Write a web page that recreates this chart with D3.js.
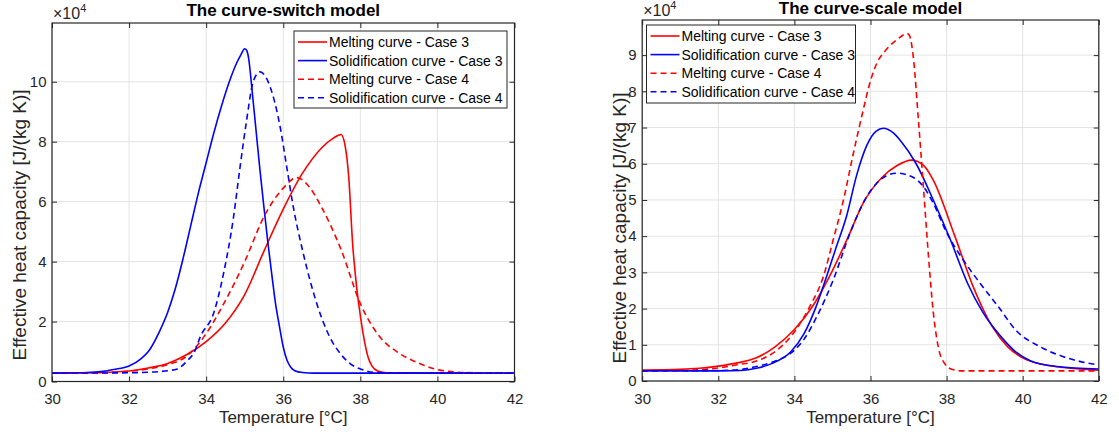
<!DOCTYPE html>
<html>
<head>
<meta charset="utf-8">
<script src="https://cdn.jsdelivr.net/npm/d3@7"></script>
<style>
  html, body { margin: 0; padding: 0; background: #fff; }
  svg { display: block; }
  text { font-family: "Liberation Sans", Arial, Helvetica, sans-serif; }
</style>
</head>
<body>
<svg id="fig" width="1119" height="435"></svg>
<script>
// Effective heat capacity curves, values in units of 10^4 J/(kg K), temperature in °C
const xTicks = [30, 32, 34, 36, 38, 40, 42];
const switchYTicks = [0, 2, 4, 6, 8, 10];
const scaleYTicks = [0, 1, 2, 3, 4, 5, 6, 7, 8, 9];
const legendLabels = [
  "Melting curve - Case 3",
  "Solidification curve - Case 3",
  "Melting curve - Case 4",
  "Solidification curve - Case 4"
];

// The curve-switch model
const switchMelt3 = [[30,0.28],[31,0.29],[31.5,0.31],[32,0.35],[32.5,0.45],[33,0.6],[33.5,0.9],[34,1.33],
  [34.5,1.95],[35,2.9],[35.5,4.35],[36,5.75],[36.5,6.95],[37,7.8],[37.3,8.12],[37.5,8.24],[37.6,7.9],
  [37.7,6.8],[37.8,4.6],[37.9,3.2],[38,2.2],[38.1,1.4],[38.2,0.82],[38.3,0.52],[38.45,0.35],[38.7,0.29],[42,0.28]];
const switchSolid3 = [[30,0.28],[30.8,0.29],[31.2,0.32],[31.6,0.4],[32,0.52],[32.3,0.75],[32.5,1.0],[32.8,1.7],
  [33,2.3],[33.2,3.1],[33.4,4.1],[33.6,5.2],[33.8,6.3],[34,7.3],[34.2,8.3],[34.4,9.2],[34.6,10.0],[34.8,10.65],
  [34.9,10.9],[35,11.1],[35.05,11.05],[35.1,10.8],[35.2,9.6],[35.3,8.3],[35.4,7.0],[35.5,5.8],[35.6,4.65],
  [35.7,3.6],[35.8,2.6],[35.9,1.85],[36,1.15],[36.1,0.7],[36.2,0.47],[36.3,0.36],[36.5,0.3],[36.8,0.28],[42,0.28]];
const switchMelt4 = [[30,0.28],[31,0.29],[31.5,0.3],[32,0.34],[32.5,0.42],[33,0.56],[33.5,0.85],[34,1.6],
  [34.5,2.7],[35,4.0],[35.5,5.5],[36,6.45],[36.35,6.8],[36.7,6.45],[37,5.8],[37.5,4.4],[38,2.6],[38.5,1.5],
  [39,0.95],[39.5,0.62],[40,0.4],[40.5,0.31],[41,0.29],[42,0.28]];
const switchSolid4 = [[30,0.28],[32,0.29],[32.5,0.31],[33,0.36],[33.25,0.42],[33.5,0.68],[33.7,1.0],[33.85,1.5],
  [34.2,2.3],[34.45,3.6],[34.7,5.4],[34.88,7.16],[35.05,8.72],[35.22,10.0],[35.4,10.33],[35.55,10.15],[35.66,9.83],
  [35.92,8.49],[36.09,7.16],[36.26,5.83],[36.52,4.27],[36.87,2.6],[37.2,1.5],[37.5,0.9],[37.75,0.58],[38,0.42],
  [38.4,0.3],[39,0.28],[42,0.28]];

// The curve-scale model
const scaleMelt3 = [[30,0.3],[31,0.32],[31.5,0.35],[32,0.41],[32.5,0.5],[33,0.64],[33.5,0.95],[34,1.42],
  [34.5,2.1],[35,3.05],[35.4,3.95],[35.8,4.9],[36.3,5.62],[36.7,5.95],[37.08,6.1],[37.4,5.95],[37.65,5.55],
  [38.2,4.05],[38.7,2.6],[39.2,1.5],[39.6,0.95],[40,0.64],[40.5,0.46],[41,0.38],[42,0.3]];
const scaleSolid3 = [[30,0.28],[32,0.28],[32.6,0.29],[33,0.35],[33.4,0.48],[33.9,0.8],[34.25,1.3],[34.55,2.0],
  [34.85,2.9],[35.1,3.7],[35.37,4.55],[35.64,5.7],[35.9,6.5],[36.15,6.9],[36.34,6.98],[36.6,6.85],[36.8,6.62],
  [37.2,6.0],[37.65,5.0],[38.1,3.9],[38.55,2.7],[38.95,1.9],[39.4,1.26],[39.8,0.82],[40.2,0.56],[40.9,0.4],[42,0.33]];
const scaleMelt4 = [[30,0.28],[31,0.29],[31.5,0.31],[32,0.36],[32.5,0.45],[33,0.55],[33.5,0.82],[33.9,1.22],
  [34.4,2.05],[34.76,2.88],[35.02,3.9],[35.29,5.0],[35.55,6.29],[35.81,7.49],[35.95,8.1],[36.08,8.55],[36.2,8.85],
  [36.35,9.07],[36.5,9.25],[36.7,9.43],[36.85,9.55],[36.95,9.6],[37.02,9.55],[37.08,9.3],[37.13,8.9],[37.26,7.2],
  [37.39,5.37],[37.52,3.5],[37.65,1.9],[37.8,0.85],[37.95,0.48],[38.1,0.34],[38.4,0.28],[42,0.28]];
const scaleSolid4 = [[30,0.28],[32,0.29],[32.6,0.32],[33,0.4],[33.5,0.55],[34,0.85],[34.25,1.15],[34.6,1.8],
  [35.02,2.79],[35.46,4.08],[35.9,5.09],[36.25,5.55],[36.69,5.74],[37.13,5.62],[37.39,5.37],[37.65,4.91],
  [38.0,4.1],[38.44,3.34],[38.88,2.7],[39.36,2.05],[39.84,1.38],[40.45,0.95],[41.07,0.67],[42,0.44]];

const RED = "#ff0000", BLUE = "#0000ff";
const AX = "#262626", GRID = "#e3e3e3";

const panels = [
  {
    title: "The curve-switch model",
    left: 52, right: 514.5, top: 23, bottom: 381.5,
    yMax: 11.96, yTicks: switchYTicks,
    series: [switchMelt3, switchSolid3, switchMelt4, switchSolid4],
    legend: { x: 294, y: 31, w: 213, h: 77 },
    ylabelX: 26, ylabelY: 225, titleY: 16
  },
  {
    title: "The curve-scale model",
    left: 642.2, right: 1098.8, top: 20, bottom: 381,
    yMax: 9.97, yTicks: scaleYTicks,
    series: [scaleMelt3, scaleSolid3, scaleMelt4, scaleSolid4],
    legend: { x: 646.5, y: 25, w: 209, h: 78 },
    ylabelX: 626, ylabelY: 228, titleY: 14
  }
];

const styles = [
  { color: RED, dash: null },
  { color: BLUE, dash: null },
  { color: RED, dash: "6,4" },
  { color: BLUE, dash: "6,4" }
];

const svg = d3.select("#fig");

panels.forEach(p => {
  const x = d3.scaleLinear().domain([30, 42]).range([p.left, p.right]);
  const y = d3.scaleLinear().domain([0, p.yMax]).range([p.bottom, p.top]);
  const g = svg.append("g");
  const w = p.right - p.left, h = p.bottom - p.top;

  // grid
  g.append("g").selectAll("line").data(xTicks).join("line")
    .attr("x1", d => x(d)).attr("x2", d => x(d))
    .attr("y1", p.top).attr("y2", p.bottom)
    .attr("stroke", GRID).attr("stroke-width", 1);
  g.append("g").selectAll("line").data(p.yTicks).join("line")
    .attr("y1", d => y(d)).attr("y2", d => y(d))
    .attr("x1", p.left).attr("x2", p.right)
    .attr("stroke", GRID).attr("stroke-width", 1);

  // curves
  const line = d3.line()
    .x(d => x(d[0])).y(d => y(d[1]))
    .curve(d3.curveMonotoneX);
  const clipId = "clip" + Math.round(p.left);
  g.append("clipPath").attr("id", clipId).append("rect")
    .attr("x", p.left).attr("y", p.top).attr("width", w).attr("height", h);
  p.series.forEach((s, i) => {
    g.append("path").datum(s)
      .attr("clip-path", `url(#${clipId})`)
      .attr("d", line)
      .attr("fill", "none")
      .attr("stroke", styles[i].color)
      .attr("stroke-width", 1.6)
      .attr("stroke-dasharray", styles[i].dash);
  });

  // axes with inward ticks on all four sides
  const tickLen = 5;
  const bottomAxis = d3.axisBottom(x).tickValues(xTicks).tickSizeInner(-tickLen).tickSizeOuter(0).tickPadding(12);
  const topAxis = d3.axisTop(x).tickValues(xTicks).tickSizeInner(-tickLen).tickSizeOuter(0).tickFormat("");
  const leftAxis = d3.axisLeft(y).tickValues(p.yTicks).tickSizeInner(-tickLen).tickSizeOuter(0).tickPadding(5.5);
  const rightAxis = d3.axisRight(y).tickValues(p.yTicks).tickSizeInner(-tickLen).tickSizeOuter(0).tickFormat("");

  const axes = [
    g.append("g").attr("transform", `translate(0,${p.bottom})`).call(bottomAxis),
    g.append("g").attr("transform", `translate(0,${p.top})`).call(topAxis),
    g.append("g").attr("transform", `translate(${p.left},0)`).call(leftAxis),
    g.append("g").attr("transform", `translate(${p.right},0)`).call(rightAxis)
  ];
  axes.forEach(a => {
    a.select(".domain").remove();
    a.selectAll(".tick line").attr("stroke", AX).attr("stroke-width", 1);
    a.selectAll(".tick text").attr("fill", AX).attr("font-size", 15)
      .attr("font-family", "Liberation Sans, Arial, sans-serif");
  });

  // box
  g.append("rect").attr("x", p.left).attr("y", p.top).attr("width", w).attr("height", h)
    .attr("fill", "none").attr("stroke", AX).attr("stroke-width", 1.2);

  // exponent marker
  const ex = g.append("text").attr("x", p.left + 1).attr("y", p.top - 4)
    .attr("fill", AX).attr("font-size", 16);
  ex.append("tspan").text("\u00d710");
  ex.append("tspan").attr("font-size", 11).attr("dy", -7).text("4");

  // title
  g.append("text").attr("x", (p.left + p.right) / 2).attr("y", p.titleY)
    .attr("text-anchor", "middle").attr("font-weight", "bold").attr("font-size", 17)
    .attr("fill", "#000").text(p.title);

  // axis labels
  g.append("text").attr("x", (p.left + p.right) / 2).attr("y", 423)
    .attr("text-anchor", "middle").attr("font-size", 17).attr("fill", AX)
    .text("Temperature [\u00b0C]");
  g.append("text")
    .attr("transform", `translate(${p.ylabelX},${p.ylabelY}) rotate(-90)`)
    .attr("text-anchor", "middle").attr("font-size", 19).attr("fill", AX)
    .text("Effective heat capacity [J/(kg K)]");

  // legend
  const L = p.legend;
  const lg = g.append("g");
  lg.append("rect").attr("x", L.x).attr("y", L.y).attr("width", L.w).attr("height", L.h)
    .attr("fill", "#fff").attr("stroke", AX).attr("stroke-width", 1);
  legendLabels.forEach((lab, i) => {
    const cy = L.y + 11 + i * 18.6;
    lg.append("line").attr("x1", L.x + 4).attr("x2", L.x + 33).attr("y1", cy).attr("y2", cy)
      .attr("stroke", styles[i].color).attr("stroke-width", 1.6)
      .attr("stroke-dasharray", styles[i].dash);
    lg.append("text").attr("x", L.x + 35).attr("y", cy + 5).attr("font-size", 14)
      .attr("fill", "#000").text(lab);
  });
});
</script>
</body>
</html>
